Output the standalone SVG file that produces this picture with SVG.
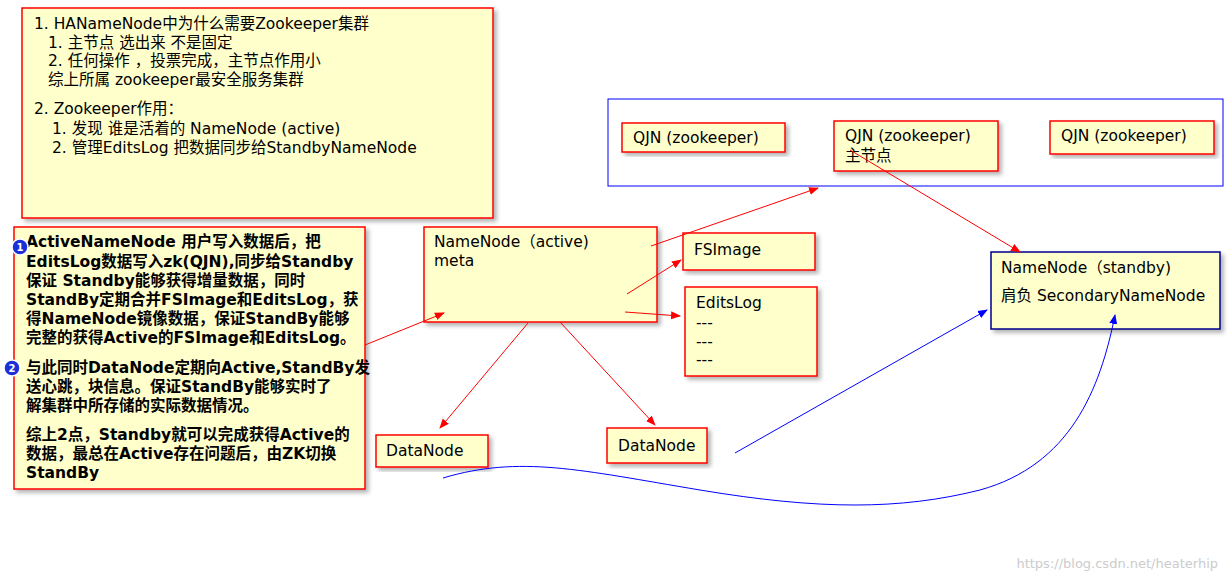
<svg xmlns="http://www.w3.org/2000/svg" width="1229" height="580" viewBox="0 0 1229 580">
<defs>
<filter id="sh" x="-5%" y="-5%" width="115%" height="120%"><feDropShadow dx="3" dy="3" stdDeviation="2" flood-color="#000" flood-opacity="0.3"/></filter>
<marker id="ar" viewBox="0 0 10 10" refX="9" refY="5" markerWidth="10" markerHeight="10" orient="auto-start-reverse"><path d="M0,1 L10,5 L0,9 Z" fill="#f00"/></marker>
<marker id="ab" viewBox="0 0 10 10" refX="9" refY="5" markerWidth="10" markerHeight="10" orient="auto-start-reverse"><path d="M0,1 L10,5 L0,9 Z" fill="#00f"/></marker>
</defs>
<style>
.n{fill:#ffffcc;stroke:#f00;stroke-width:1.5;filter:url(#sh)}
.nb{fill:#ffffcc;stroke:#00008b;stroke-width:1.5;filter:url(#sh)}
text{font-family:"DejaVu Sans","Noto Sans CJK SC",sans-serif;font-size:15.5px;fill:#000}
.b{font-weight:bold;font-size:15px}
.r{stroke:#f00;stroke-width:1;fill:none;marker-end:url(#ar)}
.bl{stroke:#00f;stroke-width:1;fill:none;marker-end:url(#ab)}
</style>
<rect width="1229" height="580" fill="#fff"/>
<g id="note1"><rect class="n" x="22" y="8" width="471" height="210"/>
<text x="34" y="29">1. HANameNode中为什么需要Zookeeper集群</text>
<text x="48" y="48">1. 主节点 选出来  不是固定</text>
<text x="48" y="66">2. 任何操作 ，投票完成，主节点作用小</text>
<text x="48" y="85">综上所属   zookeeper最安全服务集群</text>
<text x="34" y="114">2. Zookeeper作用：</text>
<text x="52" y="134">1. 发现 谁是活着的 NameNode (active)</text>
<text x="52" y="153">2. 管理EditsLog 把数据同步给StandbyNameNode</text></g>
<g id="note2"><rect class="n" x="14" y="227" width="351" height="262"/>
<g class="b"><text x="26" y="247">ActiveNameNode 用户写入数据后，把</text>
<text x="26" y="267">EditsLog数据写入zk(QJN),同步给Standby</text>
<text x="26" y="286">保证 Standby能够获得增量数据，同时</text>
<text x="26" y="305">StandBy定期合并FSImage和EditsLog，获</text>
<text x="26" y="324">得NameNode镜像数据，保证StandBy能够</text>
<text x="26" y="343">完整的获得Active的FSImage和EditsLog。</text>
<text x="26" y="373">与此同时DataNode定期向Active,StandBy发</text>
<text x="26" y="392">送心跳，块信息。保证StandBy能够实时了</text>
<text x="26" y="411">解集群中所存储的实际数据情况。</text>
<text x="26" y="440">综上2点，Standby就可以完成获得Active的</text>
<text x="26" y="459">数据，最总在Active存在问题后，由ZK切换</text>
<text x="26" y="478">StandBy</text></g>
<circle cx="20" cy="247" r="8" fill="#1a2fd6" stroke="#fff" stroke-width="1.5"/><text x="20" y="251" text-anchor="middle" style="fill:#fff;font-size:10px;font-weight:bold">1</text>
<circle cx="12" cy="368" r="8" fill="#1a2fd6" stroke="#fff" stroke-width="1.5"/><text x="12" y="372" text-anchor="middle" style="fill:#fff;font-size:10px;font-weight:bold">2</text></g>
<g id="zkgroup"><rect x="608" y="99" width="615" height="87" fill="#fff" stroke="#00f" stroke-width="1"/></g>
<g id="qjn1"><rect class="n" x="622" y="123" width="163" height="29"/><text x="633" y="143">QJN (zookeeper)</text></g>
<g id="qjn2"><rect class="n" x="834" y="121" width="164" height="50"/><text x="845" y="141">QJN (zookeeper)</text><text x="845" y="161">主节点</text></g>
<g id="qjn3"><rect class="n" x="1050" y="121" width="164" height="33"/><text x="1061" y="141">QJN (zookeeper)</text></g>
<g id="active"><rect class="n" x="424" y="227" width="233" height="95"/><text x="434" y="247">NameNode（active)</text><text x="434" y="266">meta</text></g>
<g id="fsimage"><rect class="n" x="683" y="233" width="132" height="37"/><text x="694" y="255">FSImage</text></g>
<g id="editslog"><rect class="n" x="685" y="287" width="132" height="89"/><text x="696" y="308">EditsLog</text><text x="696" y="328">---</text><text x="696" y="347">---</text><text x="696" y="365">---</text></g>
<g id="dn1"><rect class="n" x="376" y="435" width="112" height="32"/><text x="386" y="456">DataNode</text></g>
<g id="dn2"><rect class="n" x="607" y="428" width="100" height="35"/><text x="618" y="451">DataNode</text></g>
<g id="standby"><rect class="nb" x="991" y="252" width="229" height="77"/><text x="1001" y="273">NameNode（standby)</text><text x="1001" y="301">肩负 SecondaryNameNode</text></g>
<g id="connectors">
<path class="r" d="M365,345 L444,313"/>
<path class="r" d="M651,246 L818,188"/>
<path class="r" d="M627,294 L681,260"/>
<path class="r" d="M625,312 L680,316"/>
<path class="r" d="M528,323 L440,428"/>
<path class="r" d="M560,322 L655,425"/>
<path class="r" d="M850,150 L1020,252"/>
<path class="bl" d="M735,453 L987,310"/>
<path class="bl" d="M443,478 C520,455 580,470 700,490 C820,510 900,510 980,490 C1070,465 1100,390 1115,315"/>
</g>
<text x="1218" y="568" text-anchor="end" style="fill:#ccc;font-size:13px">https://blog.csdn.net/heaterhip</text>
</svg>
